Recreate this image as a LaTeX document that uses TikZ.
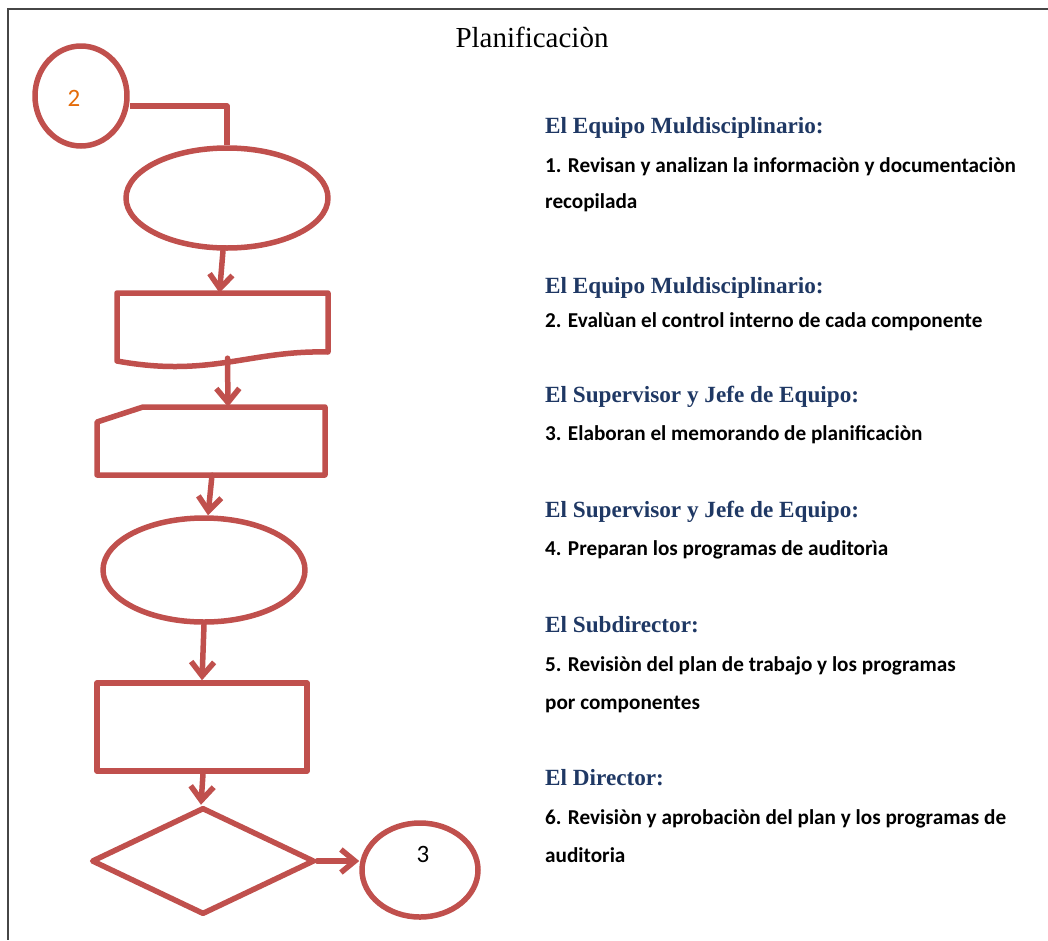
\documentclass[tikz,border=0pt]{standalone}
\usepackage{fontspec}
\setmainfont{Liberation Serif}
\newfontfamily\bodyfont{Carlito}
\usetikzlibrary{shapes.geometric,arrows.meta,calc}
\definecolor{flowred}{RGB}{192,80,77}
\definecolor{headblue}{RGB}{31,56,100}
\definecolor{numorange}{RGB}{228,108,10}
\definecolor{framegray}{RGB}{70,70,70}

\begin{document}
\begin{tikzpicture}[x=1pt,y=-1pt,
  flow/.style={draw=flowred, line width=5.5pt, line join=round},
  oval/.style={flow, ellipse, inner sep=0pt},
  ghost/.style={draw=none, rectangle, inner sep=0pt},
  link/.style={draw=flowred, line width=5.5pt, line cap=round,
    -{Straight Barb[length=14pt,width=23pt]}},
  plainlink/.style={draw=flowred, line width=5.5pt, line join=round},
  heading/.style={anchor=base west, inner sep=0pt, text=headblue,
    font=\fontsize{23.2}{26}\selectfont\bfseries},
  body/.style={anchor=base west, inner sep=0pt, text=black,
    font=\bodyfont\fontsize{21.2}{25}\selectfont\bfseries},
  numtext/.style={inner sep=0pt, font=\bodyfont\fontsize{25}{28}\selectfont}
]
\useasboundingbox (0,0) rectangle (1048,940);

% page frame (top and left edges)
\draw[framegray, line width=2.5pt] (1048,9) -- (8,9) -- (8,940);

% title
\node[anchor=base, inner sep=0pt, font=\fontsize{29}{32}\selectfont] (title) at (532,47) {Planificaciòn};

% flowchart symbols
\node[oval, minimum width=92pt, minimum height=100pt] (c2) at (81,96) {};
\node[numtext, text=numorange] (n2) at (74,98) {2};

\node[oval, minimum width=202pt, minimum height=100pt] (e1) at (227,198) {};

\node[ghost, minimum width=211pt, minimum height=70pt] (doc) at (222.5,328) {};
\draw[flow] (117,293) -- (328,293) -- (328,352)
  .. controls (250,350) and (210,378) .. (117,361) -- cycle;

\node[ghost, minimum width=228pt, minimum height=68pt] (card) at (211,441) {};
\draw[flow] (97,422) -- (143,407) -- (325,407) -- (325,475) -- (97,475) -- cycle;

\node[oval, minimum width=202pt, minimum height=104pt] (e2) at (204,570) {};

\node[flow, rectangle, inner sep=0pt, minimum width=210pt, minimum height=88pt] (box) at (202,727) {};

\node[flow, diamond, inner sep=0pt, minimum width=223pt, minimum height=107pt] (dec) at (203,861) {};

\node[oval, minimum width=116pt, minimum height=94pt] (c3) at (420,870) {};
\node[numtext, text=black] (n3) at (423,854) {3};

% connectors
\draw[plainlink] ([yshift=-10pt]c2.east) -| (e1.north);
\draw[link] ([xshift=-4pt]e1.south) -- ([xshift=-3pt]doc.north);
\draw[link] ([xshift=5pt,yshift=5pt]doc.south) -- ([xshift=17pt]card.north);
\draw[link] ([xshift=1pt]card.south) -- ([xshift=4pt]e2.north);
\draw[link] (e2.south) -- (box.north);
\draw[link] ([xshift=1pt]box.south) -- ([xshift=-2pt]dec.north);
\draw[link] (dec.east) -- (dec.east -| c3.west);

% responsibilities
\node[heading] (h1) at (545,133) {El Equipo Muldisciplinario:};
\node[body] (t1a) at (545,172) {1. Revisan y analizan la informaciòn y documentaciòn};
\node[body] (t1b) at (545,208) {recopilada};

\node[heading] (h2) at (545,293) {El Equipo Muldisciplinario:};
\node[body] (t2) at (545,327) {2. Evalùan el control interno de cada componente};

\node[heading] (h3) at (545,402) {El Supervisor y Jefe de Equipo:};
\node[body] (t3) at (545,440) {3. Elaboran el memorando de planificaciòn};

\node[heading] (h4) at (545,517) {El Supervisor y Jefe de Equipo:};
\node[body] (t4) at (545,555) {4. Preparan los programas de auditorìa};

\node[heading] (h5) at (545,632) {El Subdirector:};
\node[body] (t5a) at (545,671) {5. Revisiòn del plan de trabajo y los programas};
\node[body] (t5b) at (545,709) {por componentes};

\node[heading] (h6) at (545,785) {El Director:};
\node[body] (t6a) at (545,824) {6. Revisiòn y aprobaciòn del plan y los programas de};
\node[body] (t6b) at (545,862) {auditoria};
\end{tikzpicture}
\end{document}
